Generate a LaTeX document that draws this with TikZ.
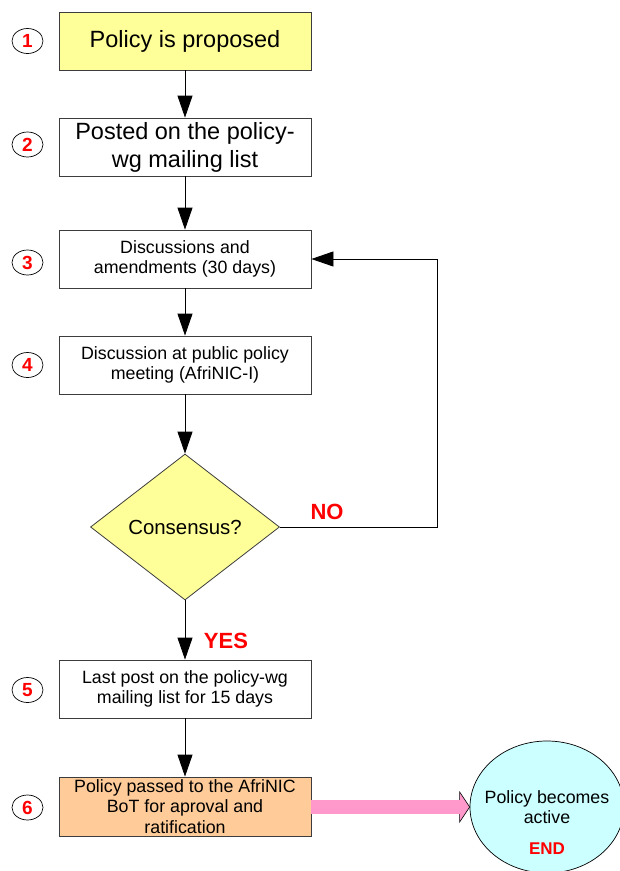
\documentclass[tikz,border=0pt]{standalone}
\usepackage{fontspec}
\setmainfont{Liberation Sans}
\usetikzlibrary{arrows.meta,shapes.geometric,calc}
\definecolor{yellowc}{RGB}{255,255,153}
\definecolor{orangec}{RGB}{255,204,153}
\definecolor{pinkc}{RGB}{255,153,204}
\definecolor{cyanc}{RGB}{204,255,255}
\definecolor{redc}{RGB}{255,0,0}
\definecolor{edgec}{RGB}{60,60,60}
\tikzset{
  box/.style={draw=edgec, line width=0.8pt, minimum width=252pt, minimum height=58pt,
    align=center, inner sep=2pt, text=black},
  bigtext/.style={font=\fontsize{23.5}{28}\selectfont},
  smalltext/.style={font=\fontsize{17.8}{20.5}\selectfont},
  numc/.style={draw=black, line width=0.7pt, ellipse, minimum width=31pt, minimum height=25pt,
    inner sep=0pt, text=redc, font=\fontsize{19}{19}\selectfont\bfseries},
  arr/.style={draw=black, line width=0.8pt, -{Triangle[length=22pt,width=15pt]}},
  redlabel/.style={text=redc, font=\fontsize{22}{22}\selectfont\bfseries},
}
\begin{document}
\begin{tikzpicture}[x=1pt,y=-1pt]
\useasboundingbox (0,0) rectangle (620,871);
% boxes
\node[box, bigtext, fill=yellowc] (b1) at (185,41) {Policy is proposed};
\node[box, bigtext, fill=white] (b2) at (185,147) {Posted on the policy-\\wg mailing list};
\node[box, smalltext, fill=white] (b3) at (185,259) {Discussions and\\amendments (30 days)};
\node[box, smalltext, fill=white] (b4) at (185,365) {Discussion at public policy\\meeting (AfriNIC-I)};
\node[diamond, draw=edgec, line width=0.8pt, fill=yellowc, minimum width=189pt, minimum height=146pt,
  inner sep=0pt, aspect=1.29, font=\fontsize{20.4}{24}\selectfont] (d) at (185,527) {Consensus?};
\node[box, smalltext, fill=white] (b5) at (185,689) {Last post on the policy-wg\\mailing list for 15 days};
\node[box, smalltext, fill=orangec, minimum height=59pt] (b6) at (185,806.5) {Policy passed to the AfriNIC\\BoT for aproval and\\ratification};
% end ellipse
\node[ellipse, draw=black, line width=0.7pt, fill=cyanc, minimum width=154pt, minimum height=132pt] (end) at (547,807) {};
\node[smalltext, align=center, inner sep=0pt] (endtext) at (547,807) {Policy becomes\\active};
\node[text=redc, font=\fontsize{17}{17}\selectfont\bfseries, inner sep=0pt] (endlabel) at (547,849) {END};
% numbers
\node[numc] (n1) at (27.5,41) {1};
\node[numc] (n2) at (27.5,144.5) {2};
\node[numc] (n3) at (27.5,262.5) {3};
\node[numc] (n4) at (27.5,365) {4};
\node[numc] (n5) at (27.5,690) {5};
\node[numc] (n6) at (27.5,807.5) {6};
% arrows
\draw[arr] (b1) -- (b2);
\draw[arr] (b2) -- (b3);
\draw[arr] (b3) -- (b4);
\draw[arr] (b4) -- (d);
\draw[arr] (d) -- (b5);
\draw[arr] (b5) -- (b6);
\coordinate (loop) at (437,0);
\draw[arr] (d.east) -- (d.east -| loop) |- (b3.east);
\node[redlabel] (no) at (327,512) {NO};
\node[redlabel] (yes) at (226,641) {YES};
% pink arrow
\fill[pinkc] ($(b6.east)+(0,-7)$) rectangle ($(end.west)+(-10,7)$);
\filldraw[fill=pinkc, draw=black, line width=0.6pt]
  ($(end.west)+(-10,-7)$) -- ($(end.west)+(-10,-15)$) -- (end.west) -- ($(end.west)+(-10,15)$) -- ($(end.west)+(-10,7)$);
\fill[pinkc] ($(end.west)+(-11,-6.6)$) rectangle ($(end.west)+(-9,6.6)$);
\end{tikzpicture}
\end{document}
